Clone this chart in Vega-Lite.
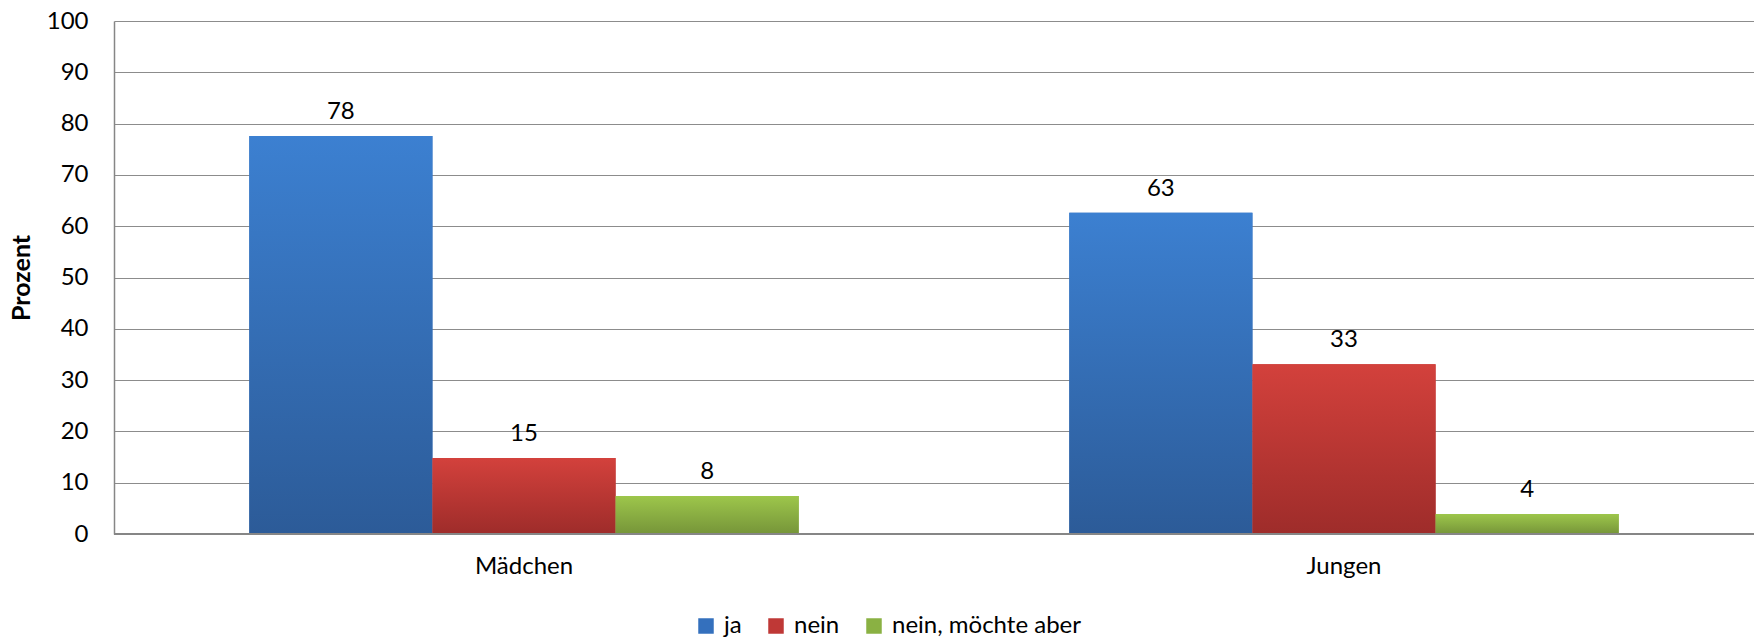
{
  "$schema": "https://vega.github.io/schema/vega-lite/v6.json",
  "autosize": "none",
  "width": 1640,
  "height": 513,
  "padding": {"left": 114, "top": 21, "right": 0, "bottom": 103},
  "background": "white",
  "config": {"font": "Lato", "view": {"stroke": null}},
  "data": {"values": [
    {"gruppe": "Mädchen", "antwort": "ja", "prozent": 77.6, "label": "78"},
    {"gruppe": "Mädchen", "antwort": "nein", "prozent": 14.8, "label": "15"},
    {"gruppe": "Mädchen", "antwort": "nein, möchte aber", "prozent": 7.4, "label": "8"},
    {"gruppe": "Jungen", "antwort": "ja", "prozent": 62.6, "label": "63"},
    {"gruppe": "Jungen", "antwort": "nein", "prozent": 33.1, "label": "33"},
    {"gruppe": "Jungen", "antwort": "nein, möchte aber", "prozent": 3.9, "label": "4"}
  ]},
  "encoding": {
    "x": {"field": "gruppe", "type": "nominal", "sort": ["Mädchen", "Jungen"],
      "scale": {"paddingInner": 0.33, "paddingOuter": 0.165},
      "axis": {"title": null, "labelAngle": 0, "labelFontSize": 24, "labelColor": "#000", "labelPadding": 20, "ticks": false, "domain": false}},
    "xOffset": {"field": "antwort", "type": "nominal", "sort": ["ja", "nein", "nein, möchte aber"], "scale": {"paddingInner": 0, "paddingOuter": 0}},
    "y": {"field": "prozent", "type": "quantitative", "scale": {"domain": [0, 100], "nice": false},
      "axis": {"title": "Prozent", "titleFontSize": 25, "titleFontWeight": "bold", "titleColor": "#000", "titlePadding": 12,
        "values": [0,10,20,30,40,50,60,70,80,90,100], "labelFontSize": 24, "labelColor": "#000", "labelPadding": 26, "ticks": false,
        "domainColor": "#868686", "domainWidth": 1.5, "gridColor": "#8c8c8c", "gridWidth": 1.2, "gridOpacity": 1}}
  },
  "layer": [
    {"mark": {"type": "bar"},
     "encoding": {"color": {"field": "antwort", "type": "nominal", "sort": ["ja", "nein", "nein, möchte aber"],
       "scale": {"range": ["#3470BD", "#BF3836", "#8AB143"]},
       "legend": {"title": null, "orient": "none", "legendX": 580, "legendY": 593, "direction": "horizontal",
         "symbolType": "square", "symbolSize": 240, "symbolStrokeWidth": 0, "symbolOpacity": 1, "labelFontSize": 24, "labelLimit": 400, "labelColor": "#000", "labelOffset": 6, "columnPadding": 22}}}},
    {"mark": {"type": "bar"},
     "encoding": {"fill": {"condition": [
         {"test": "datum.antwort === 'ja'", "value": {"gradient": "linear", "x1": 0, "y1": 0, "x2": 0, "y2": 1, "stops": [{"offset": 0, "color": "#3C80D1"}, {"offset": 1, "color": "#2C5B98"}]}},
         {"test": "datum.antwort === 'nein'", "value": {"gradient": "linear", "x1": 0, "y1": 0, "x2": 0, "y2": 1, "stops": [{"offset": 0, "color": "#D3413C"}, {"offset": 1, "color": "#9E2C2A"}]}}
       ],
       "value": {"gradient": "linear", "x1": 0, "y1": 0, "x2": 0, "y2": 1, "stops": [{"offset": 0, "color": "#9DC64B"}, {"offset": 1, "color": "#769539"}]}}}},
    {"mark": {"type": "text", "baseline": "bottom", "dy": -12, "fontSize": 24, "color": "#000"},
     "encoding": {"text": {"field": "label"}}},
    {"mark": {"type": "rule", "color": "#868686", "strokeWidth": 2},
     "data": {"values": [{"y0": 0}]},
     "encoding": {"y": {"field": "y0", "type": "quantitative"}, "x": {"value": 0}, "x2": {"value": 1640}, "xOffset": null}}
  ]
}
